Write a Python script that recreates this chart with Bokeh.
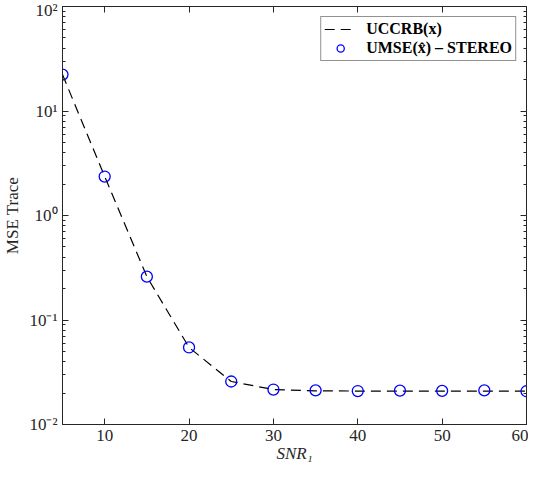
from bokeh.plotting import figure
from bokeh.models import (FixedTicker, LinearAxis, LogAxis, CustomJSTickFormatter,
                          Legend, LegendItem, Range1d)
from bokeh.embed import file_html
from bokeh.resources import INLINE

snr = [5, 10, 15, 20, 25, 30, 35, 40, 45, 50, 55, 60]
crb = [22.3, 2.36, 0.26, 0.0546, 0.0258, 0.0216, 0.0210, 0.0209, 0.0209, 0.0209, 0.0209, 0.0209]
umse = [22.3, 2.36, 0.26, 0.0546, 0.0258, 0.0216, 0.0212, 0.0209, 0.0211, 0.0210, 0.0212, 0.0208]
x_ticks = [10, 20, 30, 40, 50, 60]
y_ticks = [1e-2, 1e-1, 1e0, 1e1, 1e2]
x_lo, x_hi = 5, 60
y_lo, y_hi = 1e-2, 1e2

FONT = "Liberation Serif"
AX = "#262626"

p = figure(width=528, height=467, output_backend="svg", toolbar_location=None,
           y_axis_type="log", x_range=Range1d(x_lo, x_hi), y_range=Range1d(y_lo, y_hi),
           min_border_left=58, min_border_right=2, min_border_top=6, min_border_bottom=43)
p.outline_line_color = AX
p.grid.visible = False

minor = [m * 10.0 ** e for e in range(-2, 2) for m in range(2, 10)]
fmt = CustomJSTickFormatter(code="""
const e = Math.round(Math.log10(tick));
const sup = {'-':'\u207b','0':'\u2070','1':'\u00b9','2':'\u00b2','3':'\u00b3','4':'\u2074','5':'\u2075','6':'\u2076','7':'\u2077','8':'\u2078','9':'\u2079'};
return '10' + String(e).split('').map(c => sup[c]).join('');
""")
blank = CustomJSTickFormatter(code="return '';")

def style_axis(ax, size="17px"):
    ax.axis_line_color = AX
    ax.major_tick_line_color = AX
    ax.minor_tick_line_color = AX
    ax.major_tick_in = 6
    ax.major_tick_out = 0
    ax.minor_tick_in = 3
    ax.minor_tick_out = 0
    ax.major_label_text_font = FONT
    ax.major_label_text_color = AX
    ax.major_label_text_font_size = size
    ax.axis_label_text_font = FONT
    ax.axis_label_text_color = AX
    ax.axis_label_text_font_size = "17px"
    ax.axis_label_text_font_style = "normal"

xa = p.xaxis[0]
xa.ticker = FixedTicker(ticks=x_ticks)
style_axis(xa)
xa.major_label_standoff = 5
xa.axis_label = "SNR\u2081"
xa.axis_label_text_font_style = "italic"
xa.axis_label_standoff = 0

ya = p.yaxis[0]
ya.ticker = FixedTicker(ticks=y_ticks, minor_ticks=minor)
ya.formatter = fmt
style_axis(ya)
ya.major_label_standoff = 5
ya.axis_label = "MSE Trace"
ya.axis_label_standoff = 4

# mirrored tick marks on the top and right edges of the box
top = LinearAxis(ticker=FixedTicker(ticks=x_ticks), formatter=blank)
style_axis(top, "1px")
top.major_label_standoff = 0
p.add_layout(top, "above")

right = LogAxis(ticker=FixedTicker(ticks=y_ticks, minor_ticks=minor), formatter=blank)
style_axis(right, "1px")
right.major_label_standoff = 0
p.add_layout(right, "right")

r1 = p.line(snr, crb, line_color="black", line_width=1.2, line_dash="10 6")
r2 = p.scatter(snr, umse, marker="circle", size=11, fill_color=None,
               line_color="#0000ff", line_width=1.3)

legend = Legend(items=[LegendItem(label="UCCRB(x)", renderers=[r1]),
                       LegendItem(label="UMSE(x\u0302) \u2013 STEREO", renderers=[r2])],
                location="top_right")
legend.label_text_font = FONT
legend.label_text_font_size = "16px"
legend.label_text_font_style = "bold"
legend.label_text_color = "black"
legend.border_line_color = AX
legend.border_line_width = 1
legend.margin = 10
legend.padding = 3
legend.spacing = 1
legend.label_height = 18
legend.glyph_height = 18
legend.glyph_width = 32
legend.label_standoff = 10
p.add_layout(legend)

open("out.html", "w").write(file_html(p, INLINE))
